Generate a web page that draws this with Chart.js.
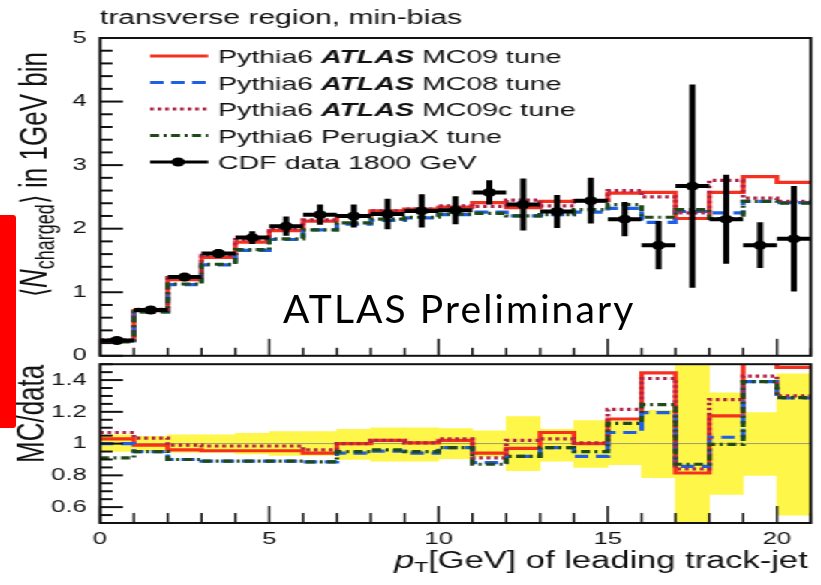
<!DOCTYPE html>
<html lang="en">
<head>
<meta charset="UTF-8" />
<title>Transverse region, min-bias: N charged vs leading track-jet pT</title>
<script src="https://cdn.jsdelivr.net/npm/chart.js"></script>
<style>
  body {
    margin: 0;
    width: 821px;
    height: 585px;
    overflow: hidden;
    position: relative;
    background: #fff;
  }
  /* the original figure is squeezed into a wide box, so everything is stretched sideways */
  #stretch {
    position: absolute;
    left: 0;
    top: 0;
    width: 547px;
    height: 585px;
    transform: scaleX(1.5009);
    transform-origin: 0 0;
  }
  #mainBox { position: absolute; left: 0; top: 0; width: 547px; height: 375px; }
  #ratioBox { position: absolute; left: 0; top: 345px; width: 547px; height: 240px; }
  #redMark {
    position: absolute;
    left: 0;
    top: 215px;
    width: 16px;
    height: 213px;
    background: #ff0000;
    border-radius: 0 3px 3px 0;
  }
  #prelim {
    position: absolute;
    left: 283px;
    top: 289px;
    font-family: Lato, 'Open Sans', sans-serif;
    font-size: 39px;
    letter-spacing: 2.1px;
    line-height: 1;
    color: #000;
    white-space: nowrap;
  }
</style>
</head>
<body>
<div id="stretch">
  <div id="mainBox"><canvas id="mainChart"></canvas></div>
  <div id="ratioBox"><canvas id="ratioChart"></canvas></div>
</div>
<div id="redMark"></div>
<div id="prelim">ATLAS Preliminary</div>

<script>
// bins in pT of the leading track-jet [GeV]
const binEdges = [0, 1, 2, 3, 4, 5, 6, 7, 8, 9, 10, 11, 12, 13, 14, 15, 16, 17, 18, 19, 20, 21];

// CDF data 1800 GeV, <N_charged> per bin and its error
const cdfValues = [0.24, 0.72, 1.24, 1.61, 1.86, 2.04, 2.22, 2.2, 2.23, 2.28, 2.29, 2.57, 2.38, 2.27, 2.44, 2.15, 1.74, 2.67, 2.15, 1.74, 1.84];
const cdfErrors = [0.02, 0.03, 0.05, 0.07, 0.1, 0.15, 0.16, 0.18, 0.24, 0.26, 0.22, 0.19, 0.41, 0.26, 0.36, 0.27, 0.38, 1.6, 0.7, 0.36, 0.83];

// Pythia6 tunes, <N_charged> per bin
const mc09 = [0.24, 0.71, 1.2, 1.55, 1.79, 1.97, 2.12, 2.2, 2.28, 2.31, 2.34, 2.41, 2.33, 2.43, 2.44, 2.56, 2.57, 2.16, 2.57, 2.82, 2.73];
const mc08 = [0.24, 0.69, 1.12, 1.43, 1.66, 1.83, 1.98, 2.07, 2.13, 2.17, 2.22, 2.26, 2.2, 2.22, 2.26, 2.32, 2.1, 2.27, 2.25, 2.43, 2.41];
const mc09c = [0.25, 0.73, 1.23, 1.58, 1.83, 2.0, 2.14, 2.2, 2.28, 2.31, 2.36, 2.35, 2.45, 2.36, 2.44, 2.6, 2.5, 2.25, 2.76, 2.48, 2.43];
const perugiaX = [0.22, 0.69, 1.13, 1.44, 1.67, 1.84, 1.98, 2.09, 2.15, 2.18, 2.23, 2.24, 2.2, 2.22, 2.3, 2.38, 2.18, 2.3, 2.16, 2.43, 2.4];

// MC/data ratios
const ratio09 = [1.03, 0.99, 0.96, 0.955, 0.955, 0.955, 0.94, 1.0, 1.02, 1.005, 1.02, 0.94, 0.97, 1.07, 1.0, 1.155, 1.445, 0.815, 1.175, 1.62, 1.48];
const ratio08 = [1.0, 0.95, 0.9, 0.89, 0.89, 0.89, 0.885, 0.94, 0.953, 0.94, 0.975, 0.88, 0.92, 0.975, 0.92, 1.07, 1.195, 0.857, 1.04, 1.39, 1.287];
const ratio09c = [1.07, 1.035, 0.99, 0.985, 0.985, 0.985, 0.96, 1.0, 1.02, 1.005, 1.03, 0.91, 1.02, 1.03, 1.005, 1.215, 1.41, 0.84, 1.277, 1.425, 1.3];
const ratioPerugia = [0.91, 0.95, 0.9, 0.89, 0.89, 0.89, 0.885, 0.95, 0.96, 0.95, 0.975, 0.87, 0.92, 0.975, 0.95, 1.127, 1.246, 0.87, 0.995, 1.39, 1.29];

// data uncertainty band in the ratio panel
const bandLow = [0.95, 0.955, 0.945, 0.945, 0.935, 0.925, 0.925, 0.9, 0.89, 0.89, 0.905, 0.92, 0.83, 0.89, 0.85, 0.867, 0.785, 0.4, 0.68, 0.8, 0.55];
const bandHigh = [1.055, 1.045, 1.055, 1.055, 1.065, 1.075, 1.075, 1.09, 1.1, 1.1, 1.095, 1.08, 1.17, 1.09, 1.145, 1.14, 1.21, 1.6, 1.32, 1.195, 1.44];

// axes
const xTickLabels = [0, 5, 10, 15, 20];
const mainTickLabels = [0, 1, 2, 3, 4, 5];
const ratioTickLabels = [0.6, 0.8, 1, 1.2, 1.4];

const legendNames = [
  ['Pythia6 ', 'ATLAS', ' MC09 tune'],
  ['Pythia6 ', 'ATLAS', ' MC08 tune'],
  ['Pythia6 ', 'ATLAS', ' MC09c tune'],
  ['Pythia6 PerugiaX tune', '', ''],
  ['CDF data 1800 GeV', '', '']
];

const FONT = "'Liberation Sans', Arial, sans-serif";
const PLOT_LEFT = 66.6;
const PLOT_RIGHT_PAD = 6.7;

const style = {
  mc09: { color: '#f5301f', dash: [] },
  mc08: { color: '#1f5ee6', dash: [9, 5] },
  mc09c: { color: '#b02348', dash: [2.5, 2.5] },
  perugia: { color: '#1f4a17', dash: [6, 3, 2, 3] },
  data: { color: '#000000', dash: [] }
};

const binCentres = cdfValues.map((_, i) => (binEdges[i] + binEdges[i + 1]) / 2);

function histPoints(values) {
  const pts = values.map((v, i) => ({ x: binEdges[i], y: v }));
  pts.push({ x: binEdges[values.length], y: values[values.length - 1] });
  return pts;
}

function errorBarPoints() {
  const pts = [];
  cdfValues.forEach((v, i) => {
    pts.push({ x: binEdges[i], y: v }, { x: binEdges[i + 1], y: v }, { x: binEdges[i + 1], y: null });
    pts.push({ x: binCentres[i], y: v - cdfErrors[i] }, { x: binCentres[i], y: v + cdfErrors[i] }, { x: binCentres[i], y: null });
  });
  return pts;
}

function histDataset(label, values, st) {
  return {
    label: label,
    data: histPoints(values),
    stepped: 'before',
    borderColor: st.color,
    borderDash: st.dash,
    borderWidth: 3.2,
    pointRadius: 0,
    fill: false
  };
}

function textRuns(ctx, parts, x, y) {
  let cx = x;
  parts.forEach(p => {
    ctx.font = p.font;
    ctx.fillText(p.t, cx, y + (p.dy || 0));
    cx += ctx.measureText(p.t).width;
  });
  return cx;
}

function runsWidth(ctx, parts) {
  let w = 0;
  parts.forEach(p => { ctx.font = p.font; w += ctx.measureText(p.t).width; });
  return w;
}

function tickValues(min, max, step) {
  const out = [];
  for (let v = min; v <= max + 1e-9; v += step) out.push(Math.round(v * 1000) / 1000);
  return out;
}

// frame and inward ROOT-style ticks
const framePlugin = {
  id: 'frame',
  afterDraw(chart, args, opts) {
    const { ctx, chartArea: a } = chart;
    const xs = chart.scales.x, ys = chart.scales.y;
    ctx.save();
    ctx.strokeStyle = '#111';
    ctx.lineWidth = 1.5;
    opts.xMinor.forEach(v => {
      const px = xs.getPixelForValue(v);
      const len = opts.xMajor.includes(v) ? opts.xMajorLen : opts.xMinorLen;
      ctx.beginPath(); ctx.moveTo(px, a.bottom); ctx.lineTo(px, a.bottom - len); ctx.stroke();
    });
    ctx.lineWidth = 2;
    opts.yMinor.forEach(v => {
      const py = ys.getPixelForValue(v);
      const len = opts.yMajor.some(m => Math.abs(m - v) < 1e-6) ? 15.3 : 8.3;
      ctx.beginPath(); ctx.moveTo(a.left, py); ctx.lineTo(a.left + len, py); ctx.stroke();
    });
    ctx.lineWidth = 2;
    ctx.strokeRect(a.left, a.top, a.right - a.left, a.bottom - a.top);
    ctx.restore();
  }
};

const mainTextPlugin = {
  id: 'mainText',
  afterDraw(chart) {
    const ctx = chart.ctx;
    ctx.save();
    ctx.fillStyle = '#111';
    ctx.textBaseline = 'alphabetic';
    ctx.textAlign = 'left';
    ctx.font = '20px ' + FONT;
    ctx.fillText('transverse region, min-bias', 66.6, 24);

    // legend
    const styles = [style.mc09, style.mc08, style.mc09c, style.perugia, style.data];
    const baselines = [63, 89.5, 116, 142.5, 169];
    styles.forEach((st, i) => {
      const yLine = baselines[i] - 7;
      ctx.strokeStyle = st.color;
      ctx.lineWidth = 3.2;
      ctx.setLineDash(st.dash);
      ctx.beginPath(); ctx.moveTo(100, yLine); ctx.lineTo(138.7, yLine); ctx.stroke();
      ctx.setLineDash([]);
      if (i === 4) {
        ctx.fillStyle = '#000';
        ctx.beginPath(); ctx.arc(118.7, yLine, 4.5, 0, Math.PI * 2); ctx.fill();
      }
      const n = legendNames[i];
      ctx.fillStyle = '#111';
      textRuns(ctx, [
        { t: n[0], font: '19px ' + FONT },
        { t: n[1], font: 'italic bold 19px ' + FONT },
        { t: n[2], font: '19px ' + FONT }
      ], 145.3, baselines[i]);
    });

    // y title
    ctx.translate(31.3, 297);
    ctx.rotate(-Math.PI / 2);
    textRuns(ctx, [
      { t: '\u27e8', font: '24px ' + FONT },
      { t: 'N', font: 'italic 26px ' + FONT },
      { t: 'charged', font: '18px ' + FONT, dy: 5 },
      { t: '\u27e9', font: '24px ' + FONT },
      { t: ' in 1GeV bin', font: '26px ' + FONT }
    ], 0, 0);
    ctx.restore();
  }
};

const ratioTextPlugin = {
  id: 'ratioText',
  afterDraw(chart) {
    const ctx = chart.ctx;
    ctx.save();
    ctx.fillStyle = '#111';
    ctx.textBaseline = 'alphabetic';
    const parts = [
      { t: 'p', font: 'italic 24px ' + FONT },
      { t: 'T', font: '15px ' + FONT, dy: 4 },
      { t: '[GeV] of leading track-jet', font: '23px ' + FONT }
    ];
    textRuns(ctx, parts, 538.3 - runsWidth(ctx, parts), 223);
    ctx.translate(28.7, 118);
    ctx.rotate(-Math.PI / 2);
    ctx.font = '26px ' + FONT;
    ctx.fillText('MC/data', 0, 0);
    ctx.restore();
  }
};

function fixedTicks(list) {
  return scale => { scale.ticks = list.map(v => ({ value: v })); };
}

const tickFont = { family: FONT, size: 17 };

new Chart(document.getElementById('mainChart'), {
  type: 'line',
  data: {
    datasets: [
      {
        label: 'CDF data 1800 GeV',
        data: binCentres.map((c, i) => ({ x: c, y: cdfValues[i] })),
        showLine: false,
        pointRadius: 4.5,
        pointBackgroundColor: '#000',
        pointBorderWidth: 0,
        borderColor: '#000'
      },
      {
        label: 'CDF errors',
        data: errorBarPoints(),
        borderColor: '#000',
        borderWidth: 4,
        pointRadius: 0,
        spanGaps: false
      },
      histDataset('Pythia6 PerugiaX tune', perugiaX, style.perugia),
      histDataset('Pythia6 ATLAS MC09c tune', mc09c, style.mc09c),
      histDataset('Pythia6 ATLAS MC08 tune', mc08, style.mc08),
      histDataset('Pythia6 ATLAS MC09 tune', mc09, style.mc09)
    ]
  },
  options: {
    responsive: true,
    maintainAspectRatio: false,
    animation: false,
    events: [],
    layout: { autoPadding: false, padding: { left: 0, right: PLOT_RIGHT_PAD, top: 38, bottom: 15 } },
    scales: {
      x: { type: 'linear', min: 0, max: 21, display: false, offset: false },
      y: {
        type: 'linear', min: 0, max: 5,
        afterBuildTicks: fixedTicks(mainTickLabels),
        afterFit: s => { s.width = PLOT_LEFT; },
        grid: { display: false, drawTicks: false },
        border: { display: false },
        ticks: { padding: 9, color: '#111', font: tickFont, callback: v => String(v) }
      }
    },
    plugins: {
      legend: { display: false },
      tooltip: { enabled: false },
      frame: {
        xMajor: xTickLabels, xMinor: tickValues(0, 21, 1), xMajorLen: 17, xMinorLen: 8,
        yMajor: mainTickLabels, yMinor: tickValues(0, 5, 0.2)
      }
    }
  },
  plugins: [framePlugin, mainTextPlugin]
});

new Chart(document.getElementById('ratioChart'), {
  type: 'line',
  data: {
    datasets: [
      histDataset('Pythia6 PerugiaX tune', ratioPerugia, style.perugia),
      histDataset('Pythia6 ATLAS MC09c tune', ratio09c, style.mc09c),
      histDataset('Pythia6 ATLAS MC08 tune', ratio08, style.mc08),
      histDataset('Pythia6 ATLAS MC09 tune', ratio09, style.mc09),
      {
        label: 'unity',
        data: [{ x: 0, y: 1 }, { x: 21, y: 1 }],
        borderColor: '#9a9a72',
        borderWidth: 1,
        pointRadius: 0
      },
      {
        type: 'bar',
        label: 'data uncertainty',
        data: binCentres.map((c, i) => ({ x: c, y: [bandLow[i], bandHigh[i]] })),
        backgroundColor: '#fff64a',
        borderWidth: 0,
        barPercentage: 1,
        categoryPercentage: 1
      }
    ]
  },
  options: {
    responsive: true,
    maintainAspectRatio: false,
    animation: false,
    events: [],
    layout: { autoPadding: false, padding: { left: 0, right: PLOT_RIGHT_PAD, top: 15, bottom: 0 } },
    scales: {
      x: {
        type: 'linear', min: 0, max: 21, offset: false,
        afterBuildTicks: fixedTicks(xTickLabels),
        afterFit: s => { s.height = 62; },
        grid: { display: false, drawTicks: false },
        border: { display: false },
        ticks: { padding: 6, color: '#111', font: tickFont, maxRotation: 0, callback: v => String(v) }
      },
      y: {
        type: 'linear', min: 0.5, max: 1.5,
        afterBuildTicks: fixedTicks(ratioTickLabels),
        afterFit: s => { s.width = PLOT_LEFT; },
        grid: { display: false, drawTicks: false },
        border: { display: false },
        ticks: { padding: 9, color: '#111', font: tickFont, callback: v => String(v) }
      }
    },
    plugins: {
      legend: { display: false },
      tooltip: { enabled: false },
      frame: {
        xMajor: xTickLabels, xMinor: tickValues(0, 21, 1), xMajorLen: 17, xMinorLen: 10,
        yMajor: ratioTickLabels, yMinor: tickValues(0.5, 1.5, 0.05)
      }
    }
  },
  plugins: [framePlugin, ratioTextPlugin]
});
</script>
</body>
</html>
